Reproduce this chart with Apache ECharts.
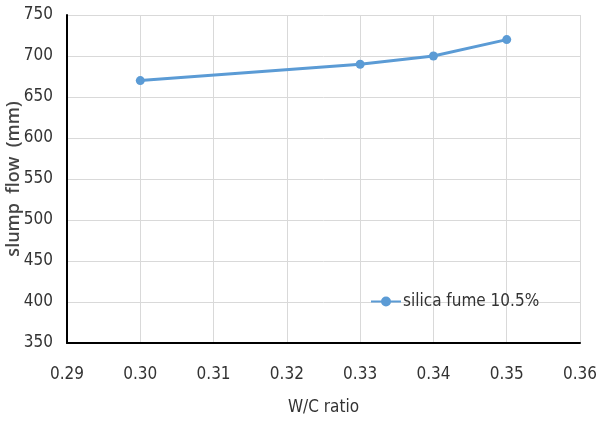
<!DOCTYPE html>
<html>
<head>
<meta charset="utf-8">
<script src="https://cdn.jsdelivr.net/npm/echarts@6/dist/echarts.min.js"></script>
<style>
  html, body { margin: 0; padding: 0; background: #fff; }
  #chart { width: 597px; height: 423px; }
</style>
</head>
<body>
<div id="chart"></div>
<script>
// W/C ratio vs slump flow for the silica fume 10.5% mix
const wcRatio = [0.30, 0.33, 0.34, 0.35];
const slumpFlow = [670, 690, 700, 720];
const seriesName = 'silica fume 10.5%';
const xTicks = { min: 0.29, max: 0.36, step: 0.01 };
const yTicks = { min: 350, max: 750, step: 50 };

const FONT = '"DejaVu Sans Condensed", "Liberation Sans", sans-serif';
const chart = echarts.init(document.getElementById('chart'));

chart.setOption({
  animation: false,
  grid: { left: 67, right: 17, top: 15, bottom: 80, outerBoundsMode: 'none' },
  legend: {
    data: [{ name: seriesName, icon: 'path://M0,9 L30,9 L30,11 L0,11 Z M15,5 A5,5 0 1,1 15,15 A5,5 0 1,1 15,5 Z' }],
    left: 366, top: 288,
    itemWidth: 30, itemHeight: 12, itemGap: 2,
    textStyle: { fontFamily: FONT, fontSize: 17, color: '#333', padding: [0, 0, 0, -3] }
  },
  xAxis: {
    type: 'value',
    min: xTicks.min, max: xTicks.max, interval: xTicks.step,
    name: 'W/C ratio', nameLocation: 'middle', nameGap: 56, nameMoveOverlap: false,
    nameTextStyle: { fontFamily: FONT, fontSize: 17, color: '#333' },
    axisLine: { show: true, lineStyle: { color: '#000', width: 2 } },
    axisTick: { show: false },
    axisLabel: { fontFamily: FONT, fontSize: 17, color: '#333', margin: 23,
      formatter: v => v.toFixed(2) },
    splitLine: { show: true, lineStyle: { color: '#d9d9d9', width: 1 } }
  },
  yAxis: {
    type: 'value',
    min: yTicks.min, max: yTicks.max, interval: yTicks.step,
    name: 'slump  flow  (mm)', nameLocation: 'middle', nameGap: 44, nameMoveOverlap: false,
    nameTextStyle: { fontFamily: '"Open Sans", sans-serif', fontSize: 18, fontWeight: 600, color: '#444' },
    axisLine: { show: true, lineStyle: { color: '#000', width: 2 } },
    axisTick: { show: false },
    axisLabel: { fontFamily: FONT, fontSize: 17, color: '#333', margin: 14 },
    splitLine: { show: true, lineStyle: { color: '#d9d9d9', width: 1 } }
  },
  series: [{
    name: seriesName,
    type: 'line',
    data: wcRatio.map((x, i) => [x, slumpFlow[i]]),
    symbol: 'circle', symbolSize: 9,
    lineStyle: { color: '#5b9bd5', width: 3 },
    itemStyle: { color: '#5b9bd5' }
  }]
});
</script>
</body>
</html>
